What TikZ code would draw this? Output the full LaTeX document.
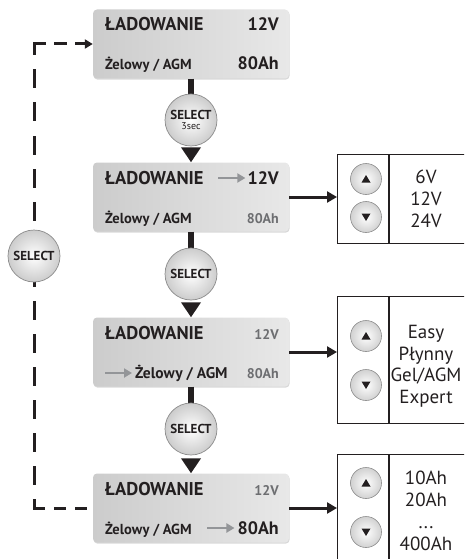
\documentclass[tikz,border=0pt]{standalone}
\usepackage{fontspec}
\setmainfont{PT Sans}
\usetikzlibrary{arrows.meta,shadows}
\definecolor{ink}{HTML}{231F20}
\definecolor{dimtext}{HTML}{6D6E71}
\definecolor{arrowgrey}{HTML}{939598}
\begin{document}
\begin{tikzpicture}[x=1pt,y=-1pt,
  lcd/.style={rounded corners=4pt, minimum width=196pt, minimum height=69pt, inner sep=0pt,
    left color=black!20, right color=black!9,
    drop shadow={opacity=0.3, shadow xshift=0.6pt, shadow yshift=-1.2pt}},
  title/.style={anchor=base west, inner sep=0pt, text=ink, font=\bfseries\fontsize{18.5}{20}\selectfont},
  bigval/.style={anchor=base east, inner sep=0pt, text=ink, font=\bfseries\fontsize{18}{20}\selectfont},
  dimval/.style={anchor=base east, inner sep=0pt, text=dimtext, font=\bfseries\fontsize{14}{15}\selectfont},
  midtxt/.style={anchor=base west, inner sep=0pt, text=ink, font=\bfseries\fontsize{14.5}{17}\selectfont},
  selbtn/.style={circle, minimum size=52pt, inner sep=0pt, draw=black!45, line width=0.7pt,
    inner color=white, outer color=black!20, text=ink, font=\bfseries\fontsize{13}{13}\selectfont},
  updn/.style={circle, minimum size=31pt, inner sep=0pt, draw=black!45, line width=0.6pt,
    inner color=white, outer color=black!18},
  stem/.style={line width=6pt, draw=ink},
  flow/.style={line width=6pt, draw=ink, -{Triangle[width=19pt,length=15pt]}},
  side/.style={line width=3pt, draw=ink, -{Triangle[width=11pt,length=10pt]}},
  hint/.style={line width=2.8pt, draw=arrowgrey, -{Triangle[width=9pt,length=8pt]}},
  panel/.style={draw=ink, line width=1.3pt, inner sep=0pt, anchor=north west, minimum width=140pt},
  listtxt/.style={align=center, text=ink, inner sep=0pt, font=\fontsize{19}{22}\selectfont},
  loopline/.style={line width=3pt, draw=ink, line cap=rect}
]
\useasboundingbox (0,0) rectangle (464,559);
\clip (0,0) rectangle (464,559);

% ---------- LCD boxes ----------
\node[lcd] (b1) at (191,44) {};
\node[lcd] (b2) at (191,197) {};
\node[lcd] (b3) at (191,352) {};
\node[lcd] (b4) at (191,508) {};

% box 1
\node[title]  (t1) at (105,31) {ŁADOWANIE};
\node[bigval] (v1) at (279,31) {12V};
\node[midtxt] (m1) at (105,70) {Żelowy / AGM};
\node[bigval] (a1) at (279,70) {80Ah};

% box 2
\node[title]  (t2) at (105,184) {ŁADOWANIE};
\node[bigval] (v2) at (279,184) {12V};
\node[midtxt] (m2) at (105,223) {Żelowy / AGM};
\node[dimval] (a2) at (279,223) {80Ah};
\coordinate (h2s) at (218,178);
\draw[hint] (h2s) -- ([xshift=-2pt]v2.west |- h2s);

% box 3
\node[title]  (t3) at (105,339) {ŁADOWANIE};
\node[dimval] (v3) at (279,339) {12V};
\node[midtxt, font=\bfseries\fontsize{15.5}{17}\selectfont] (m3) at (135,378) {Żelowy / AGM};
\node[dimval] (a3) at (279,378) {80Ah};
\coordinate (h3s) at (105,373);
\draw[hint] (h3s) -- ([xshift=-3pt]m3.west |- h3s);

% box 4
\node[title]  (t4) at (105,495) {ŁADOWANIE};
\node[dimval] (v4) at (279,495) {12V};
\node[midtxt] (m4) at (105,534) {Żelowy / AGM};
\node[bigval] (a4) at (279,534) {80Ah};
\coordinate (h4s) at (207,528);
\draw[hint] (h4s) -- ([xshift=-3pt]a4.west |- h4s);

% ---------- SELECT buttons and flow ----------
\draw[stem] (b1.south) -- (191,110);
\draw[stem] (b2.south) -- (191,262);
\draw[stem] (b3.south) -- (191,418);

\node[selbtn, align=center] (c1) at (191,120) {SELECT\\[-3pt]{\mdseries\fontsize{10}{10}\selectfont 3sec}};
\node[selbtn] (c2) at (191,274) {SELECT};
\node[selbtn] (c3) at (191,429) {SELECT};

\draw[flow] ([yshift=-5pt]c1.south) -- (b2.north);
\draw[flow] ([yshift=-5pt]c2.south) -- (b3.north);
\draw[flow] ([yshift=-5pt]c3.south) -- (b4.north);

% ---------- dashed loop ----------
\coordinate (tl) at (34,44);
\coordinate (bl) at (34,508);
\draw[loopline, dash pattern=on 9pt off 12pt] (bl) -- (b4.west);
\draw[loopline, dash pattern=on 16pt off 17pt, dash phase=6pt] (tl) -- (bl);
\draw[loopline, dash pattern=on 10pt off 11pt, -{Triangle[width=9pt,length=8pt]}] (tl) -- (b1.west);
\node[selbtn] (cs) at (34,256) {SELECT};

% ---------- right panels ----------
\node[panel, minimum height=89pt] (pA) at (337,154) {};
\node[panel, minimum height=127pt] (pB) at (337,296) {};
\node[panel, minimum height=120pt] (pC) at (337,454) {};
\foreach \p in {pA,pB,pC}{
  \draw[line width=1.3pt, ink] ([xshift=52pt]\p.north west) -- ([xshift=52pt]\p.south west);
}

\draw[side] (b2.east) -- (pA.west |- b2.east);
\draw[side] (b3.east) -- (pB.west |- b3.east);
\draw[side] (b4.east) -- (pC.west |- b4.east);

% up/down buttons
\node[updn] (uA) at (366,179) {};
\node[updn] (dA) at (366,217) {};
\node[updn] (uB) at (366,336) {};
\node[updn] (dB) at (366,385) {};
\node[updn] (uC) at (366,483) {};
\node[updn] (dC) at (366,532) {};
\foreach \u in {uA,uB,uC}{
  \fill[ink] ([shift={(-4.5,3.5)}]\u.center) -- ([shift={(4.5,3.5)}]\u.center) -- ([shift={(0,-4)}]\u.center) -- cycle;
}
\foreach \d in {dA,dB,dC}{
  \fill[ink] ([shift={(-4.5,-3.5)}]\d.center) -- ([shift={(4.5,-3.5)}]\d.center) -- ([shift={(0,4)}]\d.center) -- cycle;
}

% list texts
\node[listtxt] (tA) at (426,199) {6V\\12V\\24V};
\node[listtxt, font=\fontsize{19}{21.5}\selectfont] (tB) at (426,366) {Easy\\Płynny\\Gel/AGM\\Expert};
\node[listtxt] (tC) at (426,511) {10Ah\\20Ah\\...\\400Ah};
\end{tikzpicture}
\end{document}
